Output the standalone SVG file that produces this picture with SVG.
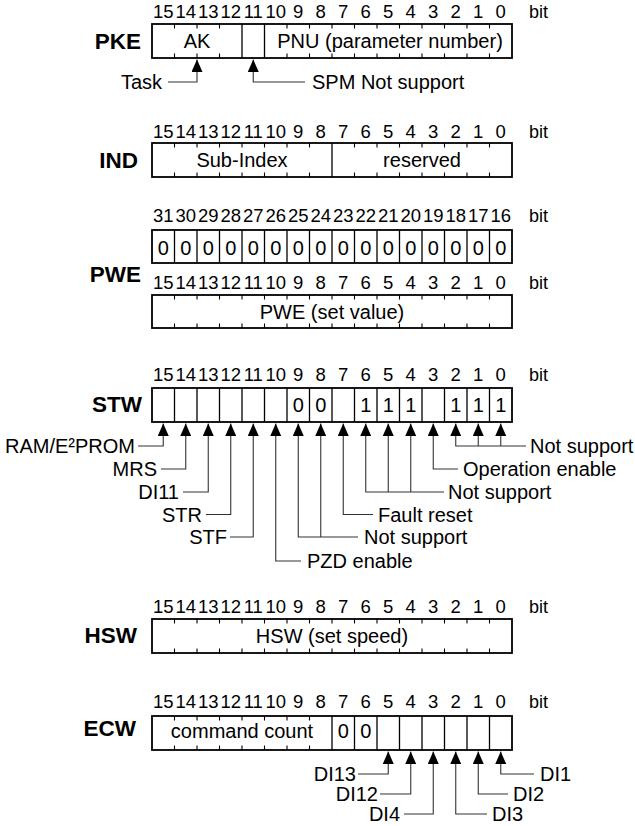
<svg xmlns="http://www.w3.org/2000/svg" width="635" height="826" viewBox="0 0 635 826">
<style>
.box{fill:#fff;stroke:#000;stroke-width:1.8}
.dv{stroke:#000;stroke-width:1.3;fill:none}
.tk{stroke:#000;stroke-width:1.1;fill:none}
.cn{stroke:#333;stroke-width:1.1;fill:none;marker-end:url(#ah)}
.num{font-family:"Liberation Sans",Arial,sans-serif;font-size:18.5px;text-anchor:middle;fill:#000}
.bit{font-family:"Liberation Sans",Arial,sans-serif;font-size:18px;fill:#000}
.reg{font-family:"Liberation Sans",Arial,sans-serif;font-size:22.5px;font-weight:bold;text-anchor:end;fill:#000}
.in{font-family:"Liberation Sans",Arial,sans-serif;font-size:20px;text-anchor:middle;fill:#000}
.lb{font-family:"Liberation Sans",Arial,sans-serif;font-size:20px;fill:#000}
.lr{font-family:"Liberation Sans",Arial,sans-serif;font-size:20px;fill:#000;text-anchor:end}
</style>
<defs>
<marker id="ah" markerUnits="userSpaceOnUse" viewBox="0 0 12.5 11" markerWidth="12.5" markerHeight="11" refX="12.5" refY="5.5" orient="auto">
<path d="M0,0 L12.5,5.5 L0,11 Z" fill="#000"/>
</marker>
</defs>
<rect width="635" height="826" fill="#fff"/>

<!-- PKE -->
<g id="PKE">
<text class="num" y="18"><tspan x="163.25">15</tspan><tspan x="185.75">14</tspan><tspan x="208.25">13</tspan><tspan x="230.75">12</tspan><tspan x="253.25">11</tspan><tspan x="275.75">10</tspan><tspan x="298.25">9</tspan><tspan x="320.75">8</tspan><tspan x="343.25">7</tspan><tspan x="365.75">6</tspan><tspan x="388.25">5</tspan><tspan x="410.75">4</tspan><tspan x="433.25">3</tspan><tspan x="455.75">2</tspan><tspan x="478.25">1</tspan><tspan x="500.75">0</tspan></text>
<text class="bit" x="529" y="18">bit</text>
<text class="reg" x="141" y="48.5">PKE</text>
<rect class="box" x="152" y="24" width="360" height="34"/>
<path class="dv" d="M242,24V58M264.5,24V58"/>
<path class="tk" d="M174.5,24v4.5M197,24v4.5M219.5,24v4.5M287,24v4.5M309.5,24v4.5M332,24v4.5M354.5,24v4.5M377,24v4.5M399.5,24v4.5M422,24v4.5M444.5,24v4.5M467,24v4.5M489.5,24v4.5M174.5,58v-4.5M197,58v-4.5M219.5,58v-4.5M287,58v-4.5M309.5,58v-4.5M332,58v-4.5M354.5,58v-4.5M377,58v-4.5M399.5,58v-4.5M422,58v-4.5M444.5,58v-4.5M467,58v-4.5M489.5,58v-4.5"/>
<text class="in" x="197" y="48">AK</text>
<text class="in" x="390" y="48">PNU (parameter number)</text>
</g>
<g id="lbl-task"><text class="lr" x="162" y="88.5">Task</text></g>
<g id="lbl-spm"><text class="lb" x="312" y="88.5">SPM Not support</text></g>

<!-- IND -->
<g id="IND">
<text class="num" y="137.5"><tspan x="163.25">15</tspan><tspan x="185.75">14</tspan><tspan x="208.25">13</tspan><tspan x="230.75">12</tspan><tspan x="253.25">11</tspan><tspan x="275.75">10</tspan><tspan x="298.25">9</tspan><tspan x="320.75">8</tspan><tspan x="343.25">7</tspan><tspan x="365.75">6</tspan><tspan x="388.25">5</tspan><tspan x="410.75">4</tspan><tspan x="433.25">3</tspan><tspan x="455.75">2</tspan><tspan x="478.25">1</tspan><tspan x="500.75">0</tspan></text>
<text class="bit" x="529" y="137.5">bit</text>
<text class="reg" x="138" y="167.5">IND</text>
<rect class="box" x="152" y="143" width="360" height="34"/>
<path class="dv" d="M332,143V177"/>
<path class="tk" d="M174.5,143v4.5M197,143v4.5M219.5,143v4.5M242,143v4.5M264.5,143v4.5M287,143v4.5M309.5,143v4.5M354.5,143v4.5M377,143v4.5M399.5,143v4.5M422,143v4.5M444.5,143v4.5M467,143v4.5M489.5,143v4.5M174.5,177v-4.5M197,177v-4.5M219.5,177v-4.5M242,177v-4.5M264.5,177v-4.5M287,177v-4.5M309.5,177v-4.5M354.5,177v-4.5M377,177v-4.5M399.5,177v-4.5M422,177v-4.5M444.5,177v-4.5M467,177v-4.5M489.5,177v-4.5"/>
<text class="in" x="242" y="167">Sub-Index</text>
<text class="in" x="422" y="167">reserved</text>
</g>

<!-- PWE -->
<g id="PWE">
<text class="num" y="222"><tspan x="163.25">31</tspan><tspan x="185.75">30</tspan><tspan x="208.25">29</tspan><tspan x="230.75">28</tspan><tspan x="253.25">27</tspan><tspan x="275.75">26</tspan><tspan x="298.25">25</tspan><tspan x="320.75">24</tspan><tspan x="343.25">23</tspan><tspan x="365.75">22</tspan><tspan x="388.25">21</tspan><tspan x="410.75">20</tspan><tspan x="433.25">19</tspan><tspan x="455.75">18</tspan><tspan x="478.25">17</tspan><tspan x="500.75">16</tspan></text>
<text class="bit" x="529" y="222">bit</text>
<rect class="box" x="152" y="230" width="360" height="33"/>
<path class="dv" d="M174.5,230V263M197,230V263M219.5,230V263M242,230V263M264.5,230V263M287,230V263M309.5,230V263M332,230V263M354.5,230V263M377,230V263M399.5,230V263M422,230V263M444.5,230V263M467,230V263M489.5,230V263"/>
<text class="in" y="254.5"><tspan x="163.25">0</tspan><tspan x="185.75">0</tspan><tspan x="208.25">0</tspan><tspan x="230.75">0</tspan><tspan x="253.25">0</tspan><tspan x="275.75">0</tspan><tspan x="298.25">0</tspan><tspan x="320.75">0</tspan><tspan x="343.25">0</tspan><tspan x="365.75">0</tspan><tspan x="388.25">0</tspan><tspan x="410.75">0</tspan><tspan x="433.25">0</tspan><tspan x="455.75">0</tspan><tspan x="478.25">0</tspan><tspan x="500.75">0</tspan></text>
<text class="reg" x="141" y="282">PWE</text>
<text class="num" y="288.5"><tspan x="163.25">15</tspan><tspan x="185.75">14</tspan><tspan x="208.25">13</tspan><tspan x="230.75">12</tspan><tspan x="253.25">11</tspan><tspan x="275.75">10</tspan><tspan x="298.25">9</tspan><tspan x="320.75">8</tspan><tspan x="343.25">7</tspan><tspan x="365.75">6</tspan><tspan x="388.25">5</tspan><tspan x="410.75">4</tspan><tspan x="433.25">3</tspan><tspan x="455.75">2</tspan><tspan x="478.25">1</tspan><tspan x="500.75">0</tspan></text>
<text class="bit" x="529" y="288.5">bit</text>
<rect class="box" x="152" y="295" width="360" height="33"/>
<path class="tk" d="M174.5,295v4.5M197,295v4.5M219.5,295v4.5M242,295v4.5M264.5,295v4.5M287,295v4.5M309.5,295v4.5M332,295v4.5M354.5,295v4.5M377,295v4.5M399.5,295v4.5M422,295v4.5M444.5,295v4.5M467,295v4.5M489.5,295v4.5M174.5,328v-4.5M197,328v-4.5M219.5,328v-4.5M242,328v-4.5M264.5,328v-4.5M287,328v-4.5M309.5,328v-4.5M332,328v-4.5M354.5,328v-4.5M377,328v-4.5M399.5,328v-4.5M422,328v-4.5M444.5,328v-4.5M467,328v-4.5M489.5,328v-4.5"/>
<text class="in" x="332" y="318.5">PWE (set value)</text>
</g>

<!-- STW -->
<g id="STW">
<text class="num" y="381"><tspan x="163.25">15</tspan><tspan x="185.75">14</tspan><tspan x="208.25">13</tspan><tspan x="230.75">12</tspan><tspan x="253.25">11</tspan><tspan x="275.75">10</tspan><tspan x="298.25">9</tspan><tspan x="320.75">8</tspan><tspan x="343.25">7</tspan><tspan x="365.75">6</tspan><tspan x="388.25">5</tspan><tspan x="410.75">4</tspan><tspan x="433.25">3</tspan><tspan x="455.75">2</tspan><tspan x="478.25">1</tspan><tspan x="500.75">0</tspan></text>
<text class="bit" x="529" y="381">bit</text>
<text class="reg" x="142" y="412">STW</text>
<rect class="box" x="152" y="388" width="360" height="34"/>
<path class="dv" d="M174.5,388V422M197,388V422M219.5,388V422M242,388V422M264.5,388V422M287,388V422M309.5,388V422M332,388V422M354.5,388V422M377,388V422M399.5,388V422M422,388V422M444.5,388V422M467,388V422M489.5,388V422"/>
<text class="in" y="412"><tspan x="298.25">0</tspan><tspan x="320.75">0</tspan><tspan x="365.75">1</tspan><tspan x="388.25">1</tspan><tspan x="410.75">1</tspan><tspan x="455.75">1</tspan><tspan x="478.25">1</tspan><tspan x="500.75">1</tspan></text>
</g>
<g id="lbl-ram"><text class="lr" x="135" y="453">RAM/E²PROM</text></g>
<g id="lbl-mrs"><text class="lr" x="157" y="476">MRS</text></g>
<g id="lbl-di11"><text class="lr" x="179" y="499">DI11</text></g>
<g id="lbl-str"><text class="lr" x="202" y="521.5">STR</text></g>
<g id="lbl-stf"><text class="lr" x="227" y="544">STF</text></g>
<g id="lbl-pzd"><text class="lb" x="307" y="568">PZD enable</text></g>
<g id="lbl-ns98"><text class="lb" x="364" y="544">Not support</text></g>
<g id="lbl-fault"><text class="lb" x="378" y="521.5">Fault reset</text></g>
<g id="lbl-ns654"><text class="lb" x="448" y="499">Not support</text></g>
<g id="lbl-open"><text class="lb" x="463" y="476">Operation enable</text></g>
<g id="lbl-ns210"><text class="lb" x="530" y="453">Not support</text></g>

<!-- HSW -->
<g id="HSW">
<text class="num" y="613"><tspan x="163.25">15</tspan><tspan x="185.75">14</tspan><tspan x="208.25">13</tspan><tspan x="230.75">12</tspan><tspan x="253.25">11</tspan><tspan x="275.75">10</tspan><tspan x="298.25">9</tspan><tspan x="320.75">8</tspan><tspan x="343.25">7</tspan><tspan x="365.75">6</tspan><tspan x="388.25">5</tspan><tspan x="410.75">4</tspan><tspan x="433.25">3</tspan><tspan x="455.75">2</tspan><tspan x="478.25">1</tspan><tspan x="500.75">0</tspan></text>
<text class="bit" x="529" y="613">bit</text>
<text class="reg" x="137" y="643">HSW</text>
<rect class="box" x="152" y="619" width="360" height="34"/>
<path class="tk" d="M174.5,619v4.5M197,619v4.5M219.5,619v4.5M242,619v4.5M264.5,619v4.5M287,619v4.5M309.5,619v4.5M332,619v4.5M354.5,619v4.5M377,619v4.5M399.5,619v4.5M422,619v4.5M444.5,619v4.5M467,619v4.5M489.5,619v4.5M174.5,653v-4.5M197,653v-4.5M219.5,653v-4.5M242,653v-4.5M264.5,653v-4.5M287,653v-4.5M309.5,653v-4.5M332,653v-4.5M354.5,653v-4.5M377,653v-4.5M399.5,653v-4.5M422,653v-4.5M444.5,653v-4.5M467,653v-4.5M489.5,653v-4.5"/>
<text class="in" x="332" y="643">HSW (set speed)</text>
</g>

<!-- ECW -->
<g id="ECW">
<text class="num" y="708"><tspan x="163.25">15</tspan><tspan x="185.75">14</tspan><tspan x="208.25">13</tspan><tspan x="230.75">12</tspan><tspan x="253.25">11</tspan><tspan x="275.75">10</tspan><tspan x="298.25">9</tspan><tspan x="320.75">8</tspan><tspan x="343.25">7</tspan><tspan x="365.75">6</tspan><tspan x="388.25">5</tspan><tspan x="410.75">4</tspan><tspan x="433.25">3</tspan><tspan x="455.75">2</tspan><tspan x="478.25">1</tspan><tspan x="500.75">0</tspan></text>
<text class="bit" x="529" y="708">bit</text>
<text class="reg" x="136" y="736">ECW</text>
<rect class="box" x="152" y="716" width="360" height="34"/>
<path class="dv" d="M332,716V750M354.5,716V750M377,716V750M399.5,716V750M422,716V750M444.5,716V750M467,716V750M489.5,716V750"/>
<path class="tk" d="M174.5,716v4.5M197,716v4.5M219.5,716v4.5M242,716v4.5M264.5,716v4.5M287,716v4.5M309.5,716v4.5M174.5,750v-4.5M197,750v-4.5M219.5,750v-4.5M242,750v-4.5M264.5,750v-4.5M287,750v-4.5M309.5,750v-4.5"/>
<text class="in" x="242" y="738">command count</text>
<text class="in" y="738"><tspan x="343.25">0</tspan><tspan x="365.75">0</tspan></text>
</g>
<g id="lbl-di13"><text class="lr" x="356" y="781">DI13</text></g>
<g id="lbl-di12"><text class="lr" x="378" y="801">DI12</text></g>
<g id="lbl-di4"><text class="lr" x="400" y="821">DI4</text></g>
<g id="lbl-di3"><text class="lb" x="492" y="821">DI3</text></g>
<g id="lbl-di2"><text class="lb" x="513" y="801">DI2</text></g>
<g id="lbl-di1"><text class="lb" x="540" y="781">DI1</text></g>

<!-- connectors -->
<g id="connectors">
<path class="cn" d="M168,82H197V59.5"/>
<path class="cn" d="M305,82H253.25V59.5"/>
<path class="cn" d="M138,446H163.25V423.5"/>
<path class="cn" d="M161,469H185.75V423.5"/>
<path class="cn" d="M183,492H208.25V423.5"/>
<path class="cn" d="M206,514.5H230.75V423.5"/>
<path class="cn" d="M230,537H253.25V423.5"/>
<path class="cn" d="M301,561H275.75V423.5"/>
<path class="cn" d="M358,537H298.25V423.5"/>
<path class="cn" d="M320.75,537V423.5"/>
<path class="cn" d="M373,514.5H343.25V423.5"/>
<path class="cn" d="M444,492H365.75V423.5"/>
<path class="cn" d="M388.25,492V423.5"/>
<path class="cn" d="M410.75,492V423.5"/>
<path class="cn" d="M458,469H433.25V423.5"/>
<path class="cn" d="M526,446H455.75V423.5"/>
<path class="cn" d="M478.25,446V423.5"/>
<path class="cn" d="M500.75,446V423.5"/>
<path class="cn" d="M358,774H388.25V751.5"/>
<path class="cn" d="M380,794H410.75V751.5"/>
<path class="cn" d="M404,814H433.25V751.5"/>
<path class="cn" d="M487,814H455.75V751.5"/>
<path class="cn" d="M508,794H478.25V751.5"/>
<path class="cn" d="M534,774H500.75V751.5"/>
</g>
</svg>
